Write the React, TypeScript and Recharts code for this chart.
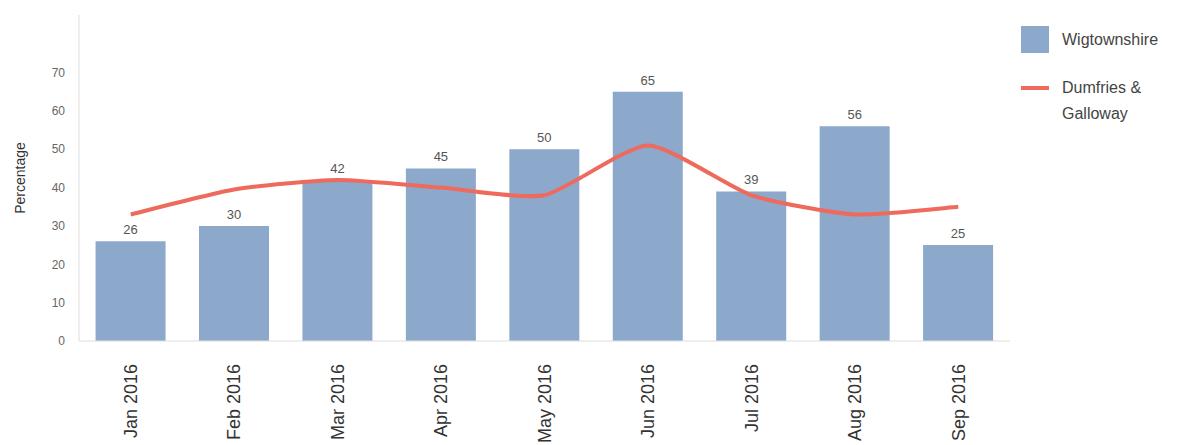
import { ComposedChart, Bar, Line, XAxis, YAxis, LabelList, Legend } from 'recharts';

const months = ['Jan 2016', 'Feb 2016', 'Mar 2016', 'Apr 2016', 'May 2016', 'Jun 2016', 'Jul 2016', 'Aug 2016', 'Sep 2016'];
const wigtownshire = [26, 30, 42, 45, 50, 65, 39, 56, 25];
const dumfries = [33, 39.5, 42, 40, 38, 51, 38, 33, 35];
const yTicks = [0, 10, 20, 30, 40, 50, 60, 70];

const data = months.map((name, i) => ({ name, wig: wigtownshire[i], dg: dumfries[i] }));

const BAR_COLOR = '#8ca9cc';
const LINE_COLOR = '#ee6a5d';
const FONT = 'Arial, "Liberation Sans", sans-serif';

// gentle cardinal-style smoothing, flatter than monotone
const softCurve = (context: any) => {
  let pts: number[][] = [];
  const k = 1 / 10;
  return {
    areaStart() {},
    areaEnd() {},
    lineStart() {
      pts = [];
    },
    point(x: number, y: number) {
      pts.push([+x, +y]);
    },
    lineEnd() {
      if (!pts.length) return;
      context.moveTo(pts[0][0], pts[0][1]);
      for (let i = 0; i < pts.length - 1; i++) {
        const p0 = pts[Math.max(i - 1, 0)];
        const p1 = pts[i];
        const p2 = pts[i + 1];
        const p3 = pts[Math.min(i + 2, pts.length - 1)];
        context.bezierCurveTo(
          p1[0] + (p2[0] - p0[0]) * k,
          p1[1] + (p2[1] - p0[1]) * k,
          p2[0] - (p3[0] - p1[0]) * k,
          p2[1] - (p3[1] - p1[1]) * k,
          p2[0],
          p2[1]
        );
      }
    },
  };
};

const MonthTick = ({ x, y, payload }: any) => (
  <text
    transform={`translate(${x},${y}) rotate(-90)`}
    x={-15}
    dy="0.35em"
    textAnchor="end"
    fontSize={18}
    fill="#333"
    fontFamily={FONT}
  >
    {payload.value}
  </text>
);

const LegendBox = () => (
  <div style={{ fontFamily: FONT, fontSize: 16, color: '#444', lineHeight: '26px' }}>
    <div style={{ display: 'flex', alignItems: 'center', marginBottom: 22 }}>
      <div style={{ width: 28, height: 27, background: BAR_COLOR, marginRight: 13 }} />
      <span>Wigtownshire</span>
    </div>
    <div style={{ display: 'flex', alignItems: 'flex-start' }}>
      <div style={{ width: 28, height: 4, background: LINE_COLOR, marginRight: 13, marginTop: 11 }} />
      <span>
        Dumfries &amp;
        <br />
        Galloway
      </span>
    </div>
  </div>
);

const App = () => {
  return (
    <div>
      <style>{'body{margin:0;background:#fff}'}</style>
      <ComposedChart
        width={1186}
        height={445}
        data={data}
        margin={{ top: 15, right: 11, left: 0, bottom: 0 }}
        barCategoryGap="16%"
      >
        <XAxis
          dataKey="name"
          height={104}
          tick={<MonthTick />}
          tickLine={false}
          axisLine={{ stroke: '#ddd' }}
          interval={0}
        />
        <YAxis
          width={79}
          domain={[0, 85]}
          ticks={yTicks}
          tickLine={false}
          axisLine={{ stroke: '#ddd' }}
          tick={{ fontSize: 12, fill: '#666', fontFamily: FONT }}
          tickMargin={8}
          label={{
            value: 'Percentage',
            angle: -90,
            position: 'insideLeft',
            offset: 20,
            style: { fontSize: 14, fill: '#333', fontFamily: FONT, textAnchor: 'middle' },
          }}
        />
        <Legend
          layout="vertical"
          align="right"
          verticalAlign="top"
          content={<LegendBox />}
          wrapperStyle={{ position: 'absolute', top: 26, left: 1021, width: 165, right: 'auto' }}
        />
        <Bar dataKey="wig" name="Wigtownshire" fill={BAR_COLOR} isAnimationActive={false}>
          <LabelList
            dataKey="wig"
            position="top"
            offset={7}
            style={{ fontSize: 13, fill: '#555', fontFamily: FONT }}
          />
        </Bar>
        <Line
          dataKey="dg"
          name="Dumfries & Galloway"
          type={softCurve as any}
          stroke={LINE_COLOR}
          strokeWidth={4}
          dot={false}
          activeDot={false}
          isAnimationActive={false}
        />
      </ComposedChart>
    </div>
  );
};

export default App;
